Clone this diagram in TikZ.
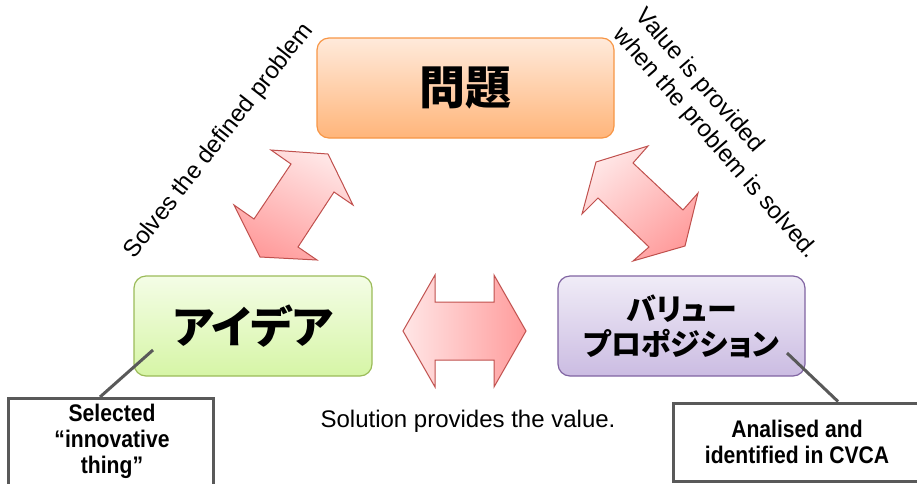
\documentclass[tikz,border=0pt]{standalone}
\usepackage{fontspec}
\setmainfont{Liberation Sans}
\newfontfamily\cjk[RawFeature=+palt]{Noto Sans CJK JP}
\newfontfamily\narrowfont[FakeStretch=0.88]{Liberation Sans}
\definecolor{orgTop}{HTML}{FFEADB}
\definecolor{orgBot}{HTML}{FFB57A}
\definecolor{orgLine}{HTML}{F79646}
\definecolor{grnTop}{HTML}{F4FDE6}
\definecolor{grnBot}{HTML}{D6F5A6}
\definecolor{grnLine}{HTML}{9BBB59}
\definecolor{prpTop}{HTML}{F0ECF7}
\definecolor{prpBot}{HTML}{CBBCE2}
\definecolor{prpLine}{HTML}{8064A2}
\definecolor{arrLight}{HTML}{FFE6E6}
\definecolor{arrDark}{HTML}{FF9C9C}
\definecolor{arrLine}{HTML}{C0504D}
\definecolor{callGray}{HTML}{595959}
\tikzset{
  mainbox/.style={rounded corners=12pt, line width=1.2pt, minimum height=100pt, inner sep=0pt},
  dblarrow/.style={draw=arrLine, line width=1pt, line join=miter},
  callbox/.style={draw=callGray, line width=3pt, fill=white, inner sep=0pt},
  callline/.style={draw=callGray, line width=3pt},
  lbl/.style={font=\fontsize{24}{29}\selectfont, inner sep=0pt},
  calltext/.style={font=\narrowfont\bfseries\fontsize{24}{26}\selectfont, align=center, inner sep=0pt}
}
\begin{document}
\begin{tikzpicture}[x=1pt,y=1pt]
\useasboundingbox (0,0) rectangle (917,-483);
% main boxes
\node[mainbox, draw=orgLine, top color=orgTop, bottom color=orgBot, minimum width=297pt,
  font=\cjk\bfseries\fontsize{46}{46}\selectfont] (prob) at (465.5,-88) {問題};
\node[mainbox, draw=grnLine, top color=grnTop, bottom color=grnBot, minimum width=238pt,
  font=\cjk\bfseries\fontsize{44}{44}\selectfont] (idea) at (253,-326) {アイデア};
\node[mainbox, draw=prpLine, top color=prpTop, bottom color=prpBot, minimum width=247pt, align=center,
  font=\cjk\bfseries\fontsize{30}{35}\selectfont] (vp) at (681.5,-326) {バリュー\\プロポジション};
% double arrows
\draw[dblarrow, top color=arrLight, bottom color=arrDark, shading angle=-25]
  (271,-150) -- (328,-154) -- (353,-205) -- (334,-192) -- (298,-247) -- (317,-260)
  -- (260,-257) -- (234,-205) -- (254,-219) -- (291,-164) -- cycle;
\draw[dblarrow, top color=arrLight, bottom color=arrDark, shading angle=40]
  (596,-162) -- (648,-146) -- (633,-163) -- (683,-210) -- (698,-193) -- (685,-246)
  -- (633,-261) -- (649,-247) -- (598,-198) -- (582,-214) -- cycle;
\draw[dblarrow, left color=arrLight, right color=arrDark]
  (403,-331) -- (435,-275) -- (435,-302) -- (494,-302) -- (494,-275) -- (526,-331)
  -- (494,-387) -- (494,-360) -- (435,-360) -- (435,-387) -- cycle;
% labels
\node[lbl, rotate=52] (solves) at (219,-141) {Solves the defined problem};
\node[lbl, rotate=-49, align=left] (value) at (726,-134) {Value is provided\\when the problem is solved.};
\node[lbl] (solution) at (468,-421) {Solution provides the value.};
% callouts
\node[callbox, minimum width=205pt, minimum height=105pt, anchor=north] (selbox) at (110.5,-397) {};
\node[calltext] (seltext) at (112,-441) {Selected\\“innovative\\thing”};
\node[callbox, minimum width=248pt, minimum height=78pt, calltext] (cvca) at (797,-442) {Analised and\\identified in CVCA};
\coordinate (ideaPt) at (153,-350);
\coordinate (vpPt) at (787,-353);
\draw[callline] (ideaPt) -- (selbox.north -| 100,0);
\draw[callline] (vpPt) -- (cvca.north -| 838,0);
\end{tikzpicture}
\end{document}
